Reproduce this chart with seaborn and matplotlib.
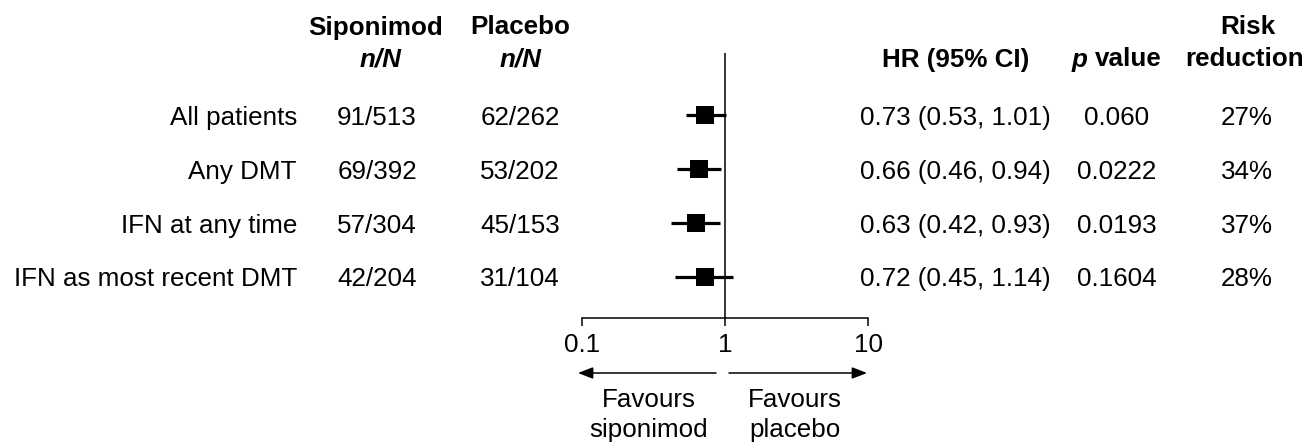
import matplotlib.pyplot as plt
import matplotlib.transforms as mtransforms
import seaborn as sns
import pandas as pd

subgroups = ["All patients", "Any DMT", "IFN at any time", "IFN as most recent DMT"]
siponimod_nN = ["91/513", "69/392", "57/304", "42/204"]
placebo_nN = ["62/262", "53/202", "45/153", "31/104"]
hr = [0.73, 0.66, 0.63, 0.72]
ci_low = [0.53, 0.46, 0.42, 0.45]
ci_high = [1.01, 0.94, 0.93, 1.14]
p_values = ["0.060", "0.0222", "0.0193", "0.1604"]
risk_reduction = ["27%", "34%", "37%", "28%"]
x_ticks = [0.1, 1, 10]
x_tick_labels = ["0.1", "1", "10"]

df = pd.DataFrame({"subgroup": subgroups, "row": range(len(subgroups)),
                   "hr": hr, "lo": ci_low, "hi": ci_high})

sns.set_style("white")
plt.rcParams["font.family"] = ["Liberation Sans", "DejaVu Sans"]
plt.rcParams["text.color"] = "black"
FS = 18.7

W, H = 1305, 442
fig = plt.figure(figsize=(W / 100, H / 100), dpi=100)


def fx(px):
    return px / W


def fy(py):
    return 1 - py / H


ax = fig.add_axes([fx(582), fy(318), (868 - 582) / W, (318 - 53) / H])

# confidence intervals and point estimates
ax.hlines(df["row"], df["lo"], df["hi"], color="black", lw=2.3, zorder=2)
sns.scatterplot(data=df, x="hr", y="row", marker="s", s=180, color="black",
                edgecolor="black", linewidth=0, ax=ax, zorder=3, legend=False)
ax.axvline(1, color="black", lw=1.1, zorder=1)

ax.set_xscale("log")
ax.set_xlim(0.1, 10)
ax.set_ylim(3.76, -1.15)
ax.set_xticks(x_ticks)
ax.set_xticklabels(x_tick_labels)
ax.minorticks_off()
ax.tick_params(axis="x", direction="out", length=6, width=1.1, colors="black",
               labelsize=FS, pad=5, bottom=True)
ax.set_yticks([])
ax.set_xlabel("")
ax.set_ylabel("")
for s in ["left", "top", "right"]:
    ax.spines[s].set_visible(False)
ax.spines["bottom"].set_color("black")
ax.spines["bottom"].set_linewidth(1.1)
ax.patch.set_alpha(0)

# table columns
tr = mtransforms.blended_transform_factory(fig.transFigure, ax.transData)
for i in df["row"]:
    kw = dict(transform=tr, fontsize=FS, va="center_baseline", color="black")
    fig.text(fx(297), i, subgroups[i], ha="right", **kw)
    fig.text(fx(377), i, siponimod_nN[i], ha="center", **kw)
    fig.text(fx(520), i, placebo_nN[i], ha="center", **kw)
    fig.text(fx(955), i, f"{hr[i]:.2f} ({ci_low[i]:.2f}, {ci_high[i]:.2f})", ha="center", **kw)
    fig.text(fx(1117), i, p_values[i], ha="center", **kw)
    fig.text(fx(1247), i, risk_reduction[i], ha="center", **kw)

# headers
hk = dict(fontsize=FS, fontweight="bold", va="center_baseline", color="black")
fig.text(fx(376), fy(25), "Siponimod", ha="center", **hk)
fig.text(fx(380), fy(57), "n/N", ha="center", style="italic", **hk)
fig.text(fx(520), fy(25), "Placebo", ha="center", **hk)
fig.text(fx(520), fy(57), "n/N", ha="center", style="italic", **hk)
fig.text(fx(956), fy(57), "HR (95% CI)", ha="center", **hk)
fig.text(fx(1072), fy(57), "p", ha="left", style="italic", **hk)
fig.text(fx(1162), fy(57), "value", ha="right", **hk)
fig.text(fx(1248), fy(25), "Risk", ha="center", **hk)
fig.text(fx(1304), fy(57), "reduction", ha="right", **hk)

# direction arrows
ap = dict(arrowstyle="-|>,head_length=0.9,head_width=0.35", color="black", lw=1.1,
          shrinkA=0, shrinkB=0)
fig.add_artist(plt.Annotation("", xy=(fx(578), fy(373)), xytext=(fx(716), fy(373)),
                              xycoords="figure fraction", arrowprops=ap))
fig.add_artist(plt.Annotation("", xy=(fx(867), fy(373)), xytext=(fx(729), fy(373)),
                              xycoords="figure fraction", arrowprops=ap))
fig.text(fx(649), fy(415), "Favours\nsiponimod", ha="center", va="center",
         fontsize=FS, linespacing=1.3, color="black")
fig.text(fx(795), fy(415), "Favours\nplacebo", ha="center", va="center",
         fontsize=FS, linespacing=1.3, color="black")

fig.savefig("out.png", dpi=100)
